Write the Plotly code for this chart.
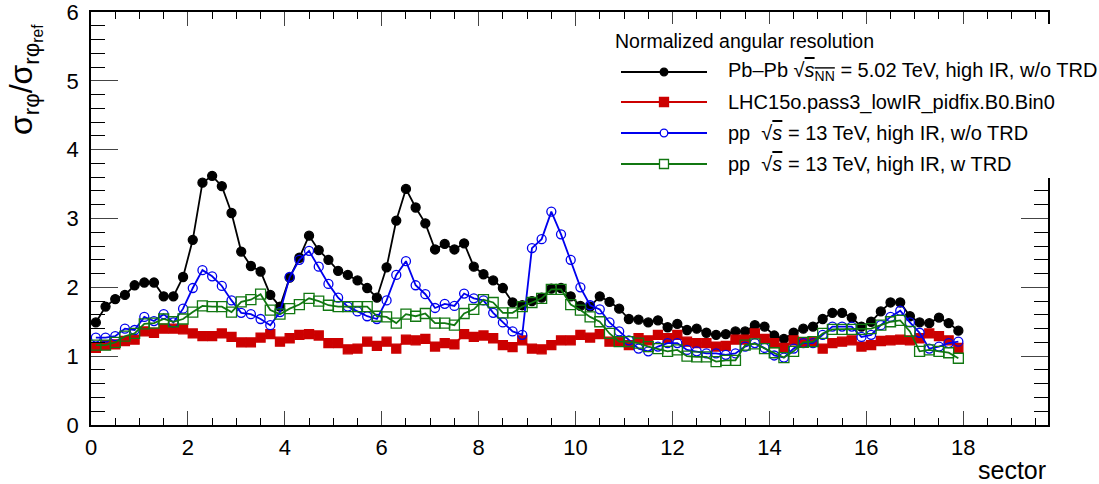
import plotly.graph_objects as go

# x positions: 90 bins (5 per sector), bin centres
x_vals = [round(0.1 + 0.2 * i, 2) for i in range(90)]

pbpb_noTRD = [1.49, 1.72, 1.83, 1.89, 2.03, 2.07, 2.07, 1.87, 1.87, 2.15,
              2.69, 3.52, 3.62, 3.47, 3.08, 2.52, 2.31, 2.23, 1.89, 1.72,
              2.14, 2.43, 2.75, 2.54, 2.40, 2.24, 2.18, 2.10, 1.99, 1.85,
              2.29, 2.97, 3.43, 3.16, 2.93, 2.55, 2.63, 2.55, 2.64, 2.30,
              2.19, 2.10, 1.99, 1.78, 1.74, 1.80, 1.85, 1.98, 1.99, 1.87,
              1.73, 1.72, 1.87, 1.79, 1.69, 1.54, 1.53, 1.49, 1.52, 1.42,
              1.47, 1.38, 1.40, 1.34, 1.31, 1.32, 1.36, 1.36, 1.45, 1.43,
              1.30, 1.25, 1.34, 1.40, 1.43, 1.54, 1.63, 1.63, 1.56, 1.43,
              1.50, 1.65, 1.78, 1.78, 1.58, 1.49, 1.48, 1.56, 1.48, 1.37]

lowIR = [1.12, 1.16, 1.17, 1.22, 1.24, 1.36, 1.34, 1.40, 1.40, 1.39,
         1.33, 1.29, 1.29, 1.33, 1.28, 1.20, 1.20, 1.27, 1.32, 1.21,
         1.26, 1.31, 1.32, 1.30, 1.19, 1.19, 1.10, 1.11, 1.21, 1.15,
         1.21, 1.11, 1.24, 1.23, 1.25, 1.14, 1.19, 1.17, 1.32, 1.28,
         1.30, 1.26, 1.16, 1.13, 1.23, 1.11, 1.10, 1.16, 1.23, 1.23,
         1.31, 1.27, 1.32, 1.21, 1.21, 1.16, 1.26, 1.23, 1.31, 1.26,
         1.31, 1.21, 1.19, 1.19, 1.14, 1.15, 1.24, 1.24, 1.33, 1.25,
         1.19, 1.12, 1.23, 1.20, 1.21, 1.11, 1.19, 1.21, 1.23, 1.14,
         1.16, 1.22, 1.23, 1.24, 1.23, 1.26, 1.33, 1.29, 1.23, 1.12]

pp_noTRD = [1.27, 1.27, 1.29, 1.40, 1.38, 1.57, 1.51, 1.61, 1.49, 1.69,
            1.99, 2.25, 2.16, 2.02, 1.81, 1.63, 1.61, 1.54, 1.45, 1.64,
            2.15, 2.40, 2.53, 2.30, 2.05, 1.85, 1.72, 1.65, 1.58, 1.54,
            1.81, 2.18, 2.38, 2.03, 1.90, 1.70, 1.76, 1.73, 1.91, 1.84,
            1.81, 1.63, 1.49, 1.36, 1.31, 2.57, 2.70, 3.10, 2.77, 2.40,
            2.00, 1.74, 1.68, 1.49, 1.36, 1.23, 1.11, 1.07, 1.14, 1.19,
            1.19, 1.09, 1.07, 1.04, 1.04, 1.02, 1.04, 1.14, 1.19, 1.12,
            1.01, 0.98, 1.11, 1.19, 1.19, 1.31, 1.43, 1.43, 1.43, 1.28,
            1.31, 1.45, 1.57, 1.66, 1.49, 1.34, 1.11, 1.14, 1.19, 1.21]

pp_wTRD = [1.16, 1.16, 1.20, 1.29, 1.33, 1.47, 1.48, 1.54, 1.50, 1.54,
           1.64, 1.73, 1.72, 1.72, 1.64, 1.79, 1.82, 1.90, 1.67, 1.61,
           1.69, 1.75, 1.84, 1.80, 1.74, 1.72, 1.72, 1.72, 1.72, 1.58,
           1.57, 1.48, 1.61, 1.58, 1.62, 1.48, 1.48, 1.45, 1.62, 1.68,
           1.82, 1.78, 1.63, 1.63, 1.72, 1.78, 1.84, 1.97, 1.97, 1.75,
           1.67, 1.57, 1.50, 1.33, 1.21, 1.21, 1.19, 1.14, 1.11, 1.07,
           1.09, 1.00, 0.99, 0.99, 0.92, 0.94, 0.94, 1.16, 1.18, 1.11,
           1.05, 0.98, 1.07, 1.20, 1.21, 1.33, 1.39, 1.39, 1.39, 1.39,
           1.40, 1.45, 1.50, 1.52, 1.36, 1.07, 1.09, 1.07, 1.05, 0.97]

series_names = [
    "Pb\u2013Pb \u221a<span style='text-decoration:overline'><i>s</i><sub>NN</sub></span> = 5.02 TeV, high IR, w/o TRD",
    "LHC15o.pass3_lowIR_pidfix.B0.Bin0",
    "pp  \u221a<span style='text-decoration:overline'><i>s</i></span> = 13 TeV, high IR, w/o TRD",
    "pp  \u221a<span style='text-decoration:overline'><i>s</i></span> = 13 TeV, high IR, w TRD",
]
series_data = [pbpb_noTRD, lowIR, pp_noTRD, pp_wTRD]
colors = ["#000000", "#cc0000", "#0000ee", "#117711"]
symbols = ["circle", "square", "circle-open", "square-open"]
msizes = [9, 9, 9, 10]

legend_title = "Normalized angular resolution"

FONT = "Liberation Sans, Arial, Helvetica, sans-serif"

fig = go.Figure()
for name, ys, c, sym, ms in zip(series_names, series_data, colors, symbols, msizes):
    fig.add_trace(go.Scatter(
        x=x_vals, y=ys, mode="lines+markers", name=name,
        line=dict(color=c, width=1.8),
        marker=dict(symbol=sym, size=ms, color=c, line=dict(color=c, width=1.3)),
        showlegend=False,
    ))

W, H = 1099, 484
L, R, T, B = 91, 1048, 12, 425

def px(xp):
    return (xp - L) / (R - L)

def py(yp):
    return (B - yp) / (B - T)

shapes = []
annotations = []
# legend box (white, borderless; covers the frame like the original)
shapes.append(dict(type="rect", xref="paper", yref="paper", x0=px(604), x1=px(1099), y0=py(178), y1=py(24),
                   line=dict(width=0), fillcolor="white", layer="above"))
# legend header
annotations.append(dict(xref="paper", yref="paper", x=px(613), y=py(41), xanchor="left", yanchor="middle",
                        text=legend_title, showarrow=False, font=dict(family=FONT, size=19.5, color="black")))
rows = [72, 102, 133, 164]
for name, c, sym, row in zip(series_names, colors, symbols, rows):
    shapes.append(dict(type="line", xref="paper", yref="paper", x0=px(621), x1=px(707), y0=py(row), y1=py(row),
                       line=dict(color=c, width=2.2), layer="above"))
    filled = "open" not in sym
    kind = "circle" if sym.startswith("circle") else "rect"
    half = 3.8 if kind == "circle" else 4.5
    shapes.append(dict(type=kind, xref="paper", yref="paper", xsizemode="pixel", ysizemode="pixel",
                       xanchor=px(664), yanchor=py(row), x0=-half, x1=half, y0=-half, y1=half,
                       line=dict(color=c, width=1.3), fillcolor=c if filled else "white", layer="above"))
    annotations.append(dict(xref="paper", yref="paper", x=px(726), y=py(row), xanchor="left", yanchor="middle",
                            text=name, showarrow=False, font=dict(family=FONT, size=20, color="black")))

# axis titles
annotations.append(dict(xref="paper", yref="paper", x=px(1048), y=py(470), xanchor="right", yanchor="middle",
                        text="sector", showarrow=False, font=dict(family=FONT, size=25, color="black")))
annotations.append(dict(xref="paper", yref="paper", x=px(24), y=py(80), xanchor="center", yanchor="middle",
                        textangle=-90,
                        text="\u03c3<sub>r\u03c6</sub>/\u03c3<sub>r\u03c6<sub>ref</sub></sub>",
                        showarrow=False, font=dict(family=FONT, size=32, color="black")))

fig.update_layout(
    width=W, height=H,
    margin=dict(l=L, r=W - R, t=T, b=H - B, pad=0, autoexpand=False),
    paper_bgcolor="white", plot_bgcolor="white",
    font=dict(family=FONT, size=22, color="black"),
    shapes=shapes, annotations=annotations,
    showlegend=False,
)
fig.update_xaxes(range=[0, 19.75], dtick=2, tick0=0, ticks="inside", ticklen=14, tickwidth=1.3,
                 showline=True, linecolor="black", linewidth=1.5, mirror="ticks", automargin=False,
                 showgrid=False, zeroline=False, tickfont=dict(size=22), ticklabelstandoff=2,
                 ticklabeloverflow="allow",
                 minor=dict(dtick=0.5, ticks="inside", ticklen=7, tickwidth=1.3, tickcolor="black", showgrid=False))
fig.update_yaxes(range=[0, 6], dtick=1, tick0=0, ticks="inside", ticklen=27, tickwidth=1.3,
                 showline=True, linecolor="black", linewidth=1.5, mirror="ticks", automargin=False,
                 showgrid=False, zeroline=False, tickfont=dict(size=22), ticklabelstandoff=6,
                 ticklabeloverflow="allow",
                 minor=dict(dtick=0.2, ticks="inside", ticklen=14, tickwidth=1.3, tickcolor="black", showgrid=False))

fig.write_html("out.html")
